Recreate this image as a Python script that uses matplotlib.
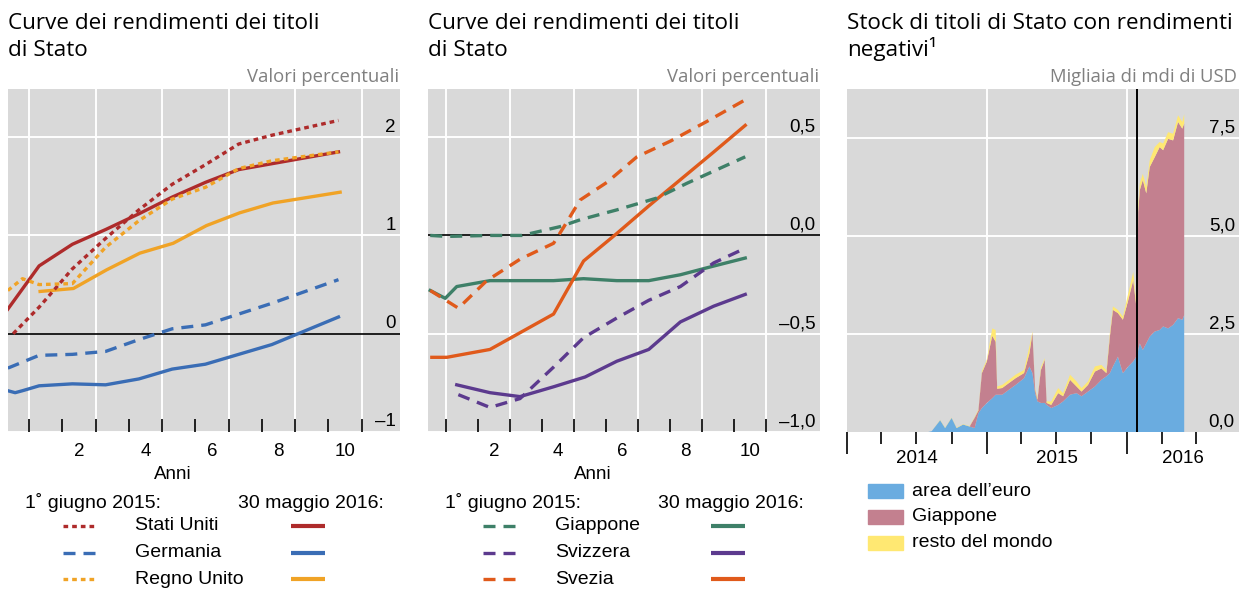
"""Curve dei rendimenti e stock di titoli di Stato con rendimenti negativi."""

import matplotlib

matplotlib.use("Agg")

import matplotlib.dates as mdates
import matplotlib.pyplot as plt
import matplotlib.transforms as mtransforms
import numpy as np
from matplotlib.lines import Line2D
from matplotlib.patches import Rectangle

W, H = 1248, 592
BG = "#d9d9d9"
TITLE_FONT = ["Open Sans", "DejaVu Sans"]
BODY_FONT = ["Liberation Sans", "DejaVu Sans"]

# --- pannello 1: curve dei rendimenti (USA, Germania, Regno Unito) ---
us_2015_x = [0.02, 0.8, 1.8, 2.8, 3.8, 4.8, 5.8, 6.8, 7.8, 9.8]
us_2015_y = [0.0, 0.27, 0.66, 0.97, 1.26, 1.52, 1.72, 1.93, 2.02, 2.17]
us_2016_x = [-0.14, 0.8, 1.8, 2.8, 3.8, 4.8, 5.8, 6.8, 7.8, 9.8]
us_2016_y = [0.25, 0.69, 0.91, 1.06, 1.22, 1.39, 1.54, 1.67, 1.73, 1.85]
de_2015_x = [-0.14, 0.8, 1.8, 2.8, 3.8, 4.8, 5.8, 6.8, 7.8, 9.8]
de_2015_y = [-0.35, -0.22, -0.21, -0.18, -0.06, 0.05, 0.09, 0.20, 0.31, 0.55]
de_2016_x = [-0.14, 0.08, 0.3, 0.8, 1.8, 2.8, 3.8, 4.8, 5.8, 6.8, 7.8, 9.8]
de_2016_y = [-0.58, -0.60, -0.58, -0.53, -0.51, -0.52, -0.46, -0.36, -0.31, -0.21, -0.11, 0.17]
uk_2015_x = [-0.14, 0.3, 0.8, 1.8, 2.8, 3.8, 4.8, 5.8, 6.8, 7.8, 9.8]
uk_2015_y = [0.44, 0.56, 0.50, 0.51, 0.88, 1.15, 1.37, 1.49, 1.68, 1.76, 1.85]
uk_2016_x = [0.83, 1.83, 2.83, 3.83, 4.83, 5.83, 6.83, 7.83, 9.85]
uk_2016_y = [0.43, 0.46, 0.65, 0.82, 0.92, 1.10, 1.23, 1.33, 1.44]

# --- pannello 2: curve dei rendimenti (Giappone, Svizzera, Svezia) ---
jp_2015_x = [0.0, 0.52, 1.87, 2.87, 4.07, 4.7, 5.84, 7.09, 8.03, 9.86]
jp_2015_y = [0.0, -0.005, 0.0, 0.0, 0.045, 0.08, 0.13, 0.19, 0.265, 0.40]
jp_2016_x = [0.0, 0.47, 0.83, 1.87, 3.86, 4.80, 5.84, 6.84, 7.83, 8.77, 9.86]
jp_2016_y = [-0.28, -0.32, -0.26, -0.23, -0.23, -0.22, -0.23, -0.23, -0.20, -0.16, -0.115]
ch_2015_x = [0.88, 1.87, 2.81, 3.86, 4.80, 5.84, 6.84, 7.83, 8.87, 9.86]
ch_2015_y = [-0.81, -0.875, -0.83, -0.67, -0.52, -0.42, -0.33, -0.26, -0.14, -0.065]
ch_2016_x = [0.83, 1.87, 2.81, 3.86, 4.85, 5.84, 6.84, 7.83, 8.87, 9.86]
ch_2016_y = [-0.76, -0.80, -0.82, -0.77, -0.72, -0.64, -0.58, -0.44, -0.36, -0.30]
se_2015_x = [0.0, 0.88, 1.77, 2.82, 3.86, 4.17, 4.69, 5.53, 6.47, 7.52, 8.66, 9.86]
se_2015_y = [-0.28, -0.37, -0.23, -0.12, -0.04, 0.04, 0.18, 0.27, 0.40, 0.48, 0.58, 0.69]
se_2016_x = [0.05, 0.52, 1.87, 3.86, 4.80, 5.84, 6.84, 7.84, 8.84, 9.86]
se_2016_y = [-0.62, -0.62, -0.58, -0.40, -0.13, 0.01, 0.15, 0.285, 0.42, 0.56]

# --- pannello 3: stock di titoli con rendimenti negativi (migliaia di mdi di USD) ---
stock_dates = [
    "2014-08-01", "2014-08-10", "2014-09-01", "2014-09-14", "2014-10-01",
    "2014-10-14", "2014-10-31", "2014-11-17", "2014-11-30", "2014-12-10",
    "2014-12-19", "2015-01-01", "2015-01-15", "2015-01-24", "2015-01-28",
    "2015-02-10", "2015-02-28", "2015-03-17", "2015-04-08", "2015-04-22",
    "2015-04-30", "2015-05-07", "2015-05-13", "2015-05-22", "2015-06-01",
    "2015-06-06", "2015-06-18", "2015-07-06", "2015-07-19", "2015-08-06",
    "2015-08-23", "2015-09-05", "2015-09-22", "2015-10-10", "2015-10-27",
    "2015-11-09", "2015-11-18", "2015-11-26", "2015-12-09", "2015-12-22",
    "2016-01-05", "2016-01-18", "2016-01-26", "2016-01-29", "2016-01-31",
    "2016-02-04", "2016-02-12", "2016-02-21", "2016-03-01", "2016-03-14",
    "2016-03-27", "2016-04-05", "2016-04-18", "2016-05-01", "2016-05-14",
    "2016-05-25", "2016-05-30",
]
euro_area = [
    0.0, 0.02, 0.30, 0.10, 0.36, 0.10, 0.19, 0.14, 0.10, 0.48,
    0.61, 0.74, 0.86, 0.95, 0.95, 0.95, 1.08, 1.20, 1.37, 1.67,
    1.50, 0.99, 0.78, 0.74, 0.74, 0.69, 0.61, 0.69, 0.78, 0.95,
    0.99, 0.91, 1.03, 1.16, 1.33, 1.42, 1.50, 1.67, 1.92, 1.50,
    1.67, 1.80, 1.92, 1.95, 2.10, 2.26, 2.09, 2.26, 2.43, 2.56,
    2.60, 2.69, 2.64, 2.73, 2.90, 2.86, 2.98,
]
japan = [
    0.0, 0.0, 0.0, 0.0, 0.0, 0.0, 0.0, 0.0, 0.26, 0.07,
    0.89, 1.06, 1.59, 1.35, 0.15, 0.17, 0.17, 0.17, 0.13, 0.33,
    1.02, 0.09, 0.04, 0.84, 1.10, 0.05, 0.08, 0.30, 0.13, 0.38,
    0.17, 0.12, 0.17, 0.38, 0.29, 0.08, 0.93, 1.44, 1.11, 1.36,
    1.69, 2.07, 1.28, 2.05, 3.50, 3.90, 4.33, 3.82, 4.32, 4.44,
    4.66, 4.49, 4.83, 4.70, 5.00, 4.87, 4.88,
]
rest_of_world = [
    0.0, 0.0, 0.01, 0.01, 0.01, 0.01, 0.01, 0.01, 0.02, 0.03,
    0.05, 0.05, 0.19, 0.30, 0.06, 0.08, 0.08, 0.09, 0.08, 0.18,
    0.04, 0.04, 0.04, 0.07, 0.04, 0.04, 0.09, 0.13, 0.08, 0.13,
    0.13, 0.09, 0.09, 0.13, 0.09, 0.08, 0.09, 0.09, 0.08, 0.08,
    0.17, 0.21, 0.12, 0.10, 0.18, 0.17, 0.16, 0.17, 0.17, 0.26,
    0.13, 0.17, 0.17, 0.17, 0.17, 0.17, 0.24,
]
boj_date = "2016-01-29"

COL = {
    "us": "#ae2b2b",
    "de": "#3a6db5",
    "uk": "#f0a326",
    "jp": "#3e8068",
    "ch": "#5c3a8e",
    "se": "#e05a1b",
    "euro": "#6aace0",
    "jp_area": "#c3808f",
    "rest": "#ffe872",
}
LW = 2.4
DOTTED = (1.4, 1.2)
DASHED = (3.6, 2.4)
FS = 13.5
FS_LEG = 14


def px_box(left, top, right, bottom):
    return [left / W, 1 - bottom / H, (right - left) / W, (bottom - top) / H]


def fx(px):
    return px / W


def fy(py):
    return 1 - py / H


def style_curve_axes(ax, ylim, xlim, yticks, ylabels):
    ax.set_facecolor(BG)
    for side in ax.spines.values():
        side.set_visible(False)
    ax.set_xlim(*xlim)
    ax.set_ylim(*ylim)
    ax.set_yticks([])
    for v in yticks:
        if v != 0:
            ax.axhline(v, color="white", linewidth=1.4, zorder=1)
    for v in np.arange(0.5, 11, 2):
        ax.axvline(v, color="white", linewidth=1.4, zorder=1)
    ax.axhline(0, color="black", linewidth=1.2, zorder=2)
    trans = mtransforms.blended_transform_factory(ax.transAxes, ax.transData)
    for v, lab in zip(yticks, ylabels):
        ax.annotate(lab, xy=(1, v), xycoords=trans, xytext=(-3, 4),
                    textcoords="offset points", ha="right", va="baseline",
                    fontsize=FS, family=BODY_FONT, zorder=5)
    ax.set_xticks([2, 4, 6, 8, 10])
    ax.set_xticklabels(["2", "4", "6", "8", "10"], family=BODY_FONT)
    ax.set_xticks(np.arange(0.5, 11, 1), minor=True)
    ax.tick_params(axis="x", which="major", length=0, pad=8, labelsize=FS)
    ax.tick_params(axis="x", which="minor", direction="in", length=9.5,
                   width=1.2, color="black")
    ax.set_xlabel("Anni", fontsize=FS, family=BODY_FONT)
    ax.xaxis.set_label_coords(0.421, -0.098)


def draw_line_legend(fig, left, rows):
    fig.text(fx(left + 17), fy(503), "1˚ giugno 2015:", fontsize=FS_LEG,
             family=BODY_FONT, va="center")
    fig.text(fx(left + 229.5), fy(503), "30 maggio 2016:", fontsize=FS_LEG,
             family=BODY_FONT, va="center")
    for py, (label, color, dashes) in zip([525.5, 552.5, 579], rows):
        fig.add_artist(Line2D([fx(left + 55), fx(left + 89)], [fy(py), fy(py)],
                              color=color, linewidth=LW, dashes=dashes))
        fig.text(fx(left + 127), fy(py), label, fontsize=FS_LEG,
                 family=BODY_FONT, va="center")
        fig.add_artist(Line2D([fx(left + 283), fx(left + 317)], [fy(py), fy(py)],
                              color=color, linewidth=LW + 0.6,
                              solid_capstyle="butt"))


fig = plt.figure(figsize=(W / 100, H / 100), dpi=100)

# pannello 1
ax1 = fig.add_axes(px_box(8, 89, 400, 432))
style_curve_axes(ax1, (-1, 2.49), (-0.135, 11.65), [-1, 0, 1, 2], ["–1", "0", "1", "2"])
ax1.plot(us_2016_x, us_2016_y, color=COL["us"], linewidth=LW, zorder=3)
ax1.plot(de_2016_x, de_2016_y, color=COL["de"], linewidth=LW, zorder=3)
ax1.plot(uk_2016_x, uk_2016_y, color=COL["uk"], linewidth=LW, zorder=3)
ax1.plot(us_2015_x, us_2015_y, color=COL["us"], linewidth=LW, dashes=DOTTED, zorder=4)
ax1.plot(de_2015_x, de_2015_y, color=COL["de"], linewidth=LW, dashes=DASHED, zorder=4)
ax1.plot(uk_2015_x, uk_2015_y, color=COL["uk"], linewidth=LW, dashes=DOTTED, zorder=4)

# pannello 2
ax2 = fig.add_axes(px_box(428, 89, 820, 432))
style_curve_axes(ax2, (-1.0, 0.745), (-0.07, 12.2), [-1.0, -0.5, 0.0, 0.5],
                 ["–1,0", "–0,5", "0,0", "0,5"])
ax2.plot(jp_2016_x, jp_2016_y, color=COL["jp"], linewidth=LW, zorder=3)
ax2.plot(ch_2016_x, ch_2016_y, color=COL["ch"], linewidth=LW, zorder=3)
ax2.plot(se_2016_x, se_2016_y, color=COL["se"], linewidth=LW, zorder=3)
ax2.plot(jp_2015_x, jp_2015_y, color=COL["jp"], linewidth=LW, dashes=DASHED, zorder=4)
ax2.plot(ch_2015_x, ch_2015_y, color=COL["ch"], linewidth=LW, dashes=DASHED, zorder=4)
ax2.plot(se_2015_x, se_2015_y, color=COL["se"], linewidth=LW, dashes=DASHED, zorder=4)

# pannello 3
ax3 = fig.add_axes(px_box(847, 89, 1239, 432))
ax3.set_facecolor(BG)
for side in ax3.spines.values():
    side.set_visible(False)
dates = np.array(stock_dates, dtype="datetime64[D]")
ax3.stackplot(dates, euro_area, japan, rest_of_world,
              colors=[COL["euro"], COL["jp_area"], COL["rest"]], linewidth=0, zorder=3)
ax3.set_xlim(np.datetime64("2014-01-01"), np.datetime64("2016-10-20"))
ax3.set_ylim(0, 8.74)
ax3.set_yticks([])
for v in [2.5, 5.0, 7.5]:
    ax3.axhline(v, color="white", linewidth=1.4, zorder=1)
for d in ["2015-01-01", "2016-01-01"]:
    ax3.axvline(np.datetime64(d), color="white", linewidth=1.4, zorder=1)
ax3.axvline(np.datetime64(boj_date), color="black", linewidth=1.4, zorder=5)
trans3 = mtransforms.blended_transform_factory(ax3.transAxes, ax3.transData)
for v, lab in zip([0.0, 2.5, 5.0, 7.5], ["0,0", "2,5", "5,0", "7,5"]):
    ax3.annotate(lab, xy=(1, v), xycoords=trans3, xytext=(-3, 4),
                 textcoords="offset points", ha="right", va="baseline",
                 fontsize=FS, family=BODY_FONT, zorder=6)
year_starts = np.array(["2014-01-01", "2015-01-01", "2016-01-01"], dtype="datetime64[D]")
quarters = np.array(["2014-04-01", "2014-07-01", "2014-10-01", "2015-04-01",
                     "2015-07-01", "2015-10-01", "2016-04-01", "2016-07-01"],
                    dtype="datetime64[D]")
ax3.set_xticks(mdates.date2num(year_starts))
ax3.set_xticks(mdates.date2num(quarters), minor=True)
ax3.set_xticklabels([])
ax3.tick_params(axis="x", which="major", direction="out", length=16, width=1.2)
ax3.tick_params(axis="x", which="minor", direction="out", length=8.5, width=1.2)
tx3 = mtransforms.blended_transform_factory(ax3.transData, ax3.transAxes)
for d, lab in zip(["2014-07-02", "2015-07-02", "2016-05-26"], ["2014", "2015", "2016"]):
    ax3.text(np.datetime64(d), -0.077, lab, transform=tx3, ha="center", va="center",
             fontsize=FS, family=BODY_FONT)

# titoli
for xl, lines in [(8, ["Curve dei rendimenti dei titoli", "di Stato"]),
                  (428, ["Curve dei rendimenti dei titoli", "di Stato"]),
                  (847, ["Stock di titoli di Stato con rendimenti", "negativi¹"])]:
    for py, line in zip([29, 56], lines):
        fig.text(fx(xl), fy(py), line, fontsize=16.2, family=TITLE_FONT,
                 va="baseline")
for xr, lab in [(399, "Valori percentuali"), (819, "Valori percentuali"),
                (1237, "Migliaia di mdi di USD")]:
    fig.text(fx(xr), fy(82), lab, fontsize=13.3, family=TITLE_FONT, color="#808080",
             ha="right", va="baseline")

# legende
draw_line_legend(fig, 8, [("Stati Uniti", COL["us"], DOTTED),
                          ("Germania", COL["de"], DASHED),
                          ("Regno Unito", COL["uk"], DOTTED)])
draw_line_legend(fig, 428, [("Giappone", COL["jp"], DASHED),
                            ("Svizzera", COL["ch"], DASHED),
                            ("Svezia", COL["se"], DASHED)])
for py, lab, c in zip([491, 516.5, 542.5], ["area dell’euro", "Giappone", "resto del mondo"],
                      [COL["euro"], COL["jp_area"], COL["rest"]]):
    fig.add_artist(Rectangle((fx(868), fy(py + 7)), 35 / W, 14 / H, color=c,
                             transform=fig.transFigure))
    fig.text(fx(912), fy(py), lab, fontsize=FS_LEG, family=BODY_FONT, va="center")

fig.savefig("out.png", dpi=100)
